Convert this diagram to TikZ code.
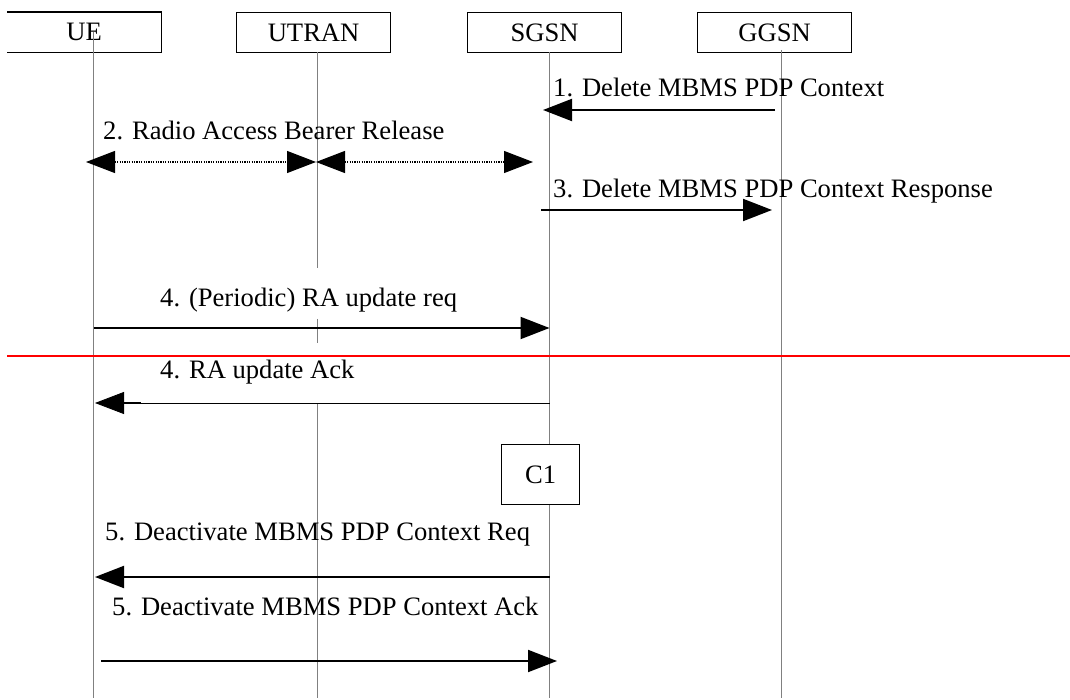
\documentclass[tikz,border=0pt]{standalone}
\usepackage{fontspec}
\setmainfont{Liberation Serif}
\usetikzlibrary{arrows.meta}
\begin{document}
\begin{tikzpicture}[x=1pt,y=-1pt,
  ent/.style={minimum width=154pt, minimum height=40pt, inner sep=0pt, anchor=north west, font=\fontsize{26.6}{30}\selectfont},
  entbox/.style={ent, draw=black, line width=1.2pt},
  lbl/.style={anchor=base west, inner sep=0pt, font=\fontsize{26.6}{30}\selectfont},
  life/.style={draw=black!50, line width=1.2pt},
  head/.style={-{Triangle[length=29pt,width=22pt]}},
  msg/.style={draw=black, line width=2pt, head},
  thinmsg/.style={draw=black, line width=0.8pt, head},
  dotmsg/.style={draw=black, line width=1.1pt, dash pattern=on 1.2pt off 1.2pt, {Triangle[length=29pt,width=22pt]}-{Triangle[length=29pt,width=22pt]}},
  sep/.style={draw=red, line width=1.4pt}
]
\useasboundingbox (0,0) rectangle (1070,700);

% entities
\node[ent] (ue) at (7,12) {UE};
\draw[line width=1.2pt] (ue.north west) -- (ue.north east) -- (ue.south east) -- (ue.south west);
\node[entbox] (utran) at (236,12) {UTRAN};
\node[entbox] (sgsn) at (467,12) {SGSN};
\node[entbox] (ggsn) at (697,12) {GGSN};
\node[draw=black, line width=1.2pt, minimum width=78pt, minimum height=60pt, inner sep=0pt, anchor=north west, font=\fontsize{26.6}{30}\selectfont] (c1) at (501,444) {C1};

% lifeline coordinates
\coordinate (ueT) at (93.7,32);   \coordinate (ueB) at (93.7,698);
\coordinate (utT) at (317.5,52);  \coordinate (utA) at (317.5,268);
\coordinate (utC) at (317.5,319); \coordinate (utD) at (317.5,343);
\coordinate (utE) at (317.5,403); \coordinate (utB) at (317.5,698);
\coordinate (sgT) at (549.5,52);  \coordinate (sgB) at (549.5,698);
\coordinate (ggT) at (781.7,50);  \coordinate (ggB) at (781.7,698);

\draw[life] (ueT) -- (ueB);
\draw[life] (utT) -- (utA);
\draw[life] (utC) -- (utD);
\draw[life] (utE) -- (utB);
\draw[life] (sgT) -- (c1.north -| sgT);
\draw[life] (c1.south -| sgB) -- (sgB);
\draw[life] (ggT) -- (ggB);

% separator
\coordinate (sepL) at (7,356);
\coordinate (sepR) at (1070,356);
\draw[sep] (sepL) -- (sepR);

% message end points
\coordinate (m1s) at (775,110);   \coordinate (m1e) at (543,110);
\coordinate (m2a) at (86,162);    \coordinate (m2b) at (316,162);
\coordinate (m2c) at (533,162);
\coordinate (m3s) at (541,210);   \coordinate (m3e) at (772,210);
\coordinate (m4s) at (93.7,328);  \coordinate (m4e) at (549.5,328);
\coordinate (m5s) at (549.5,403); \coordinate (m5e) at (95,403);
\coordinate (m5k) at (141,403);   \coordinate (m5h) at (120,403);
\coordinate (m6s) at (549.5,577); \coordinate (m6e) at (95,577);
\coordinate (m7s) at (101,661);   \coordinate (m7e) at (557,661);

% messages
\draw[msg] (m1s) -- (m1e);
\draw[dotmsg] (m2a) -- (m2b);
\draw[dotmsg] (m2b) -- (m2c);
\draw[msg] (m3s) -- (m3e);
\draw[msg] (m4s) -- (m4e);
\draw[thinmsg] (m5s) -- (m5e);
\draw[line width=2pt] (m5k) -- (m5h);
\draw[msg] (m6s) -- (m6e);
\draw[msg] (m7s) -- (m7e);

% labels
\node[lbl] (l1) at (553,97) {1. Delete MBMS PDP Context};
\node[lbl] (l2) at (103,140) {2. Radio Access Bearer Release};
\node[lbl] (l3) at (553,198) {3. Delete MBMS PDP Context Response};
\node[lbl] (l4) at (160,307) {4. (Periodic) RA update req};
\node[lbl] (l5) at (160,378) {4. RA update Ack};
\node[lbl] (l6) at (105,540) {5. Deactivate MBMS PDP Context Req};
\node[lbl] (l7) at (112,615) {5. Deactivate MBMS PDP Context Ack};
\end{tikzpicture}
\end{document}
